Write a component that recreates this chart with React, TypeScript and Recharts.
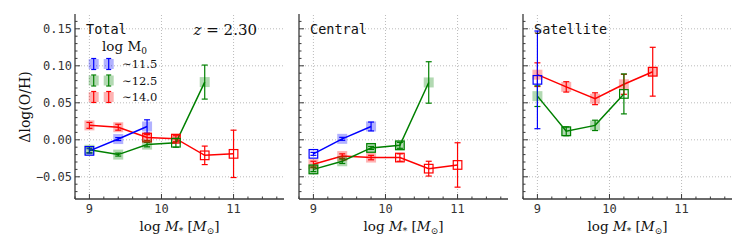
import React from 'react';
import { ComposedChart, Line, XAxis, YAxis, ErrorBar, ReferenceLine } from 'recharts';

// ---------- data ----------
const massBins = [9.0, 9.4, 9.8, 10.2, 10.6, 11.0];
const panelNames = ['Total', 'Central', 'Satellite'];
const haloLabels = ['\u223C11.5', '\u223C12.5', '\u223C14.0'];
const seriesColors = ['#0000ff', '#008000', '#ff0000'];

// Total
const totalLow = [-0.015, 0.001, 0.018];
const totalLowErr = [0.003, 0.002, 0.009];
const totalLowMark = ['h', 'f', 'f'];
const totalMid = [-0.0135, -0.02, -0.0065, -0.004, 0.078];
const totalMidErr = [0.004, 0.002, 0.003, 0.006, 0.023];
const totalMidMark = ['f', 'f', 'f', 'h', 'f'];
const totalHigh = [0.0195, 0.017, 0.003, 0.0015, -0.021, -0.019];
const totalHighErr = [0.004, 0.004, 0.004, 0.004, 0.0125, 0.032];
const totalHighMark = ['f', 'f', 'b', 'b', 'h', 'h'];

// Central
const centralLow = [-0.019, 0.0013, 0.018];
const centralLowErr = [0.002, 0.002, 0.006];
const centralLowMark = ['h', 'f', 'f'];
const centralMid = [-0.04, -0.029, -0.011, -0.0075, 0.0775];
const centralMidErr = [0.003, 0.003, 0.002, 0.004, 0.028];
const centralMidMark = ['b', 'f', 'b', 'b', 'f'];
const centralHigh = [-0.033, -0.022, -0.024, -0.024, -0.039, -0.034];
const centralHighErr = [0.004, 0.003, 0.003, 0.005, 0.01, 0.03];
const centralHighMark = ['f', 'f', 'f', 'h', 'h', 'h'];

// Satellite
const satLow = [0.081];
const satLowErr = [0.066];
const satLowMark = ['h'];
const satMid = [0.059, 0.0115, 0.0195, 0.062];
const satMidErr = [0.014, 0.006, 0.007, 0.027];
const satMidMark = ['f', 'b', 'f', 'h'];
const satHigh = [0.088, 0.0715, 0.0555, 0.075, 0.092];
const satHighErr = [0.016, 0.007, 0.008, 0.0135, 0.033];
const satHighMark = ['f', 'f', 'f', 'f', 'b'];

// axes
const xDomain = [8.8, 11.7];
const yDomain = [-0.08, 0.17];
const xMajorTicks = [9, 10, 11];
const xMinorTicks = [8.8, 9.2, 9.4, 9.6, 9.8, 10.2, 10.4, 10.6, 10.8, 11.2, 11.4, 11.6];
const yMajorTicks = [-0.05, 0, 0.05, 0.1, 0.15];
const yMajorLabels = ['\u22120.05', '0.00', '0.05', '0.10', '0.15'];
const yMinorTicks = [-0.07, -0.06, -0.04, -0.03, -0.02, -0.01, 0.01, 0.02, 0.03, 0.04, 0.06, 0.07, 0.08, 0.09, 0.11, 0.12, 0.13, 0.14, 0.16];

type Pt = { x: number; y: number; e: number; m: string };
const build = (vals: number[], errs: number[], marks: string[]): Pt[] =>
  vals.map((v, i) => ({ x: massBins[i], y: v, e: errs[i], m: marks[i] }));

const panels = [
  [build(totalLow, totalLowErr, totalLowMark), build(totalMid, totalMidErr, totalMidMark), build(totalHigh, totalHighErr, totalHighMark)],
  [build(centralLow, centralLowErr, centralLowMark), build(centralMid, centralMidErr, centralMidMark), build(centralHigh, centralHighErr, centralHighMark)],
  [build(satLow, satLowErr, satLowMark), build(satMid, satMidErr, satMidMark), build(satHigh, satHighErr, satHighMark)],
];

// ---------- layout ----------
const CHART_W = 294;
const CHART_H = 249;
const Y_AXIS_W = 75;
const PLOT_W = 209;
const TOP = 14;
const X_AXIS_H = 50;
const chartLefts = [0, 224, 448];
const frame = '#3a3a3a';
const textColor = '#333';
const mono = "'DejaVu Sans Mono', monospace";
const serifStyle = { fontFamily: "'DejaVu Serif', serif" };

const isMajorX = (v: number) => xMajorTicks.some((t) => Math.abs(t - v) < 1e-9);
const majorYIndex = (v: number) => yMajorTicks.findIndex((t) => Math.abs(t - v) < 1e-9);

const BottomTick = (props: any) => {
  const { x, y, payload } = props;
  const major = isMajorX(payload.value);
  return (
    <g>
      <line x1={x} x2={x} y1={y} y2={y - (major ? 5 : 2.5)} stroke={frame} strokeWidth={1} />
      {major && (
        <text x={x} y={y + 14} textAnchor="middle" fontFamily={mono} fontSize={12} fill={textColor}>
          {payload.value}
        </text>
      )}
    </g>
  );
};
const TopTick = (props: any) => {
  const { x, y, payload } = props;
  const major = isMajorX(payload.value);
  return <line x1={x} x2={x} y1={y} y2={y + (major ? 5 : 2.5)} stroke={frame} strokeWidth={1} />;
};
const makeLeftTick = (labels: boolean) => (props: any) => {
  const { x, y, payload } = props;
  const idx = majorYIndex(payload.value);
  const major = idx >= 0;
  return (
    <g>
      <line x1={x} x2={x + (major ? 5 : 2.5)} y1={y} y2={y} stroke={frame} strokeWidth={1} />
      {major && labels && (
        <text x={x - 3} y={y + 4.3} textAnchor="end" fontFamily={mono} fontSize={12} fill={textColor}>
          {yMajorLabels[idx]}
        </text>
      )}
    </g>
  );
};
const RightTick = (props: any) => {
  const { x, y, payload } = props;
  const major = majorYIndex(payload.value) >= 0;
  return <line x1={x} x2={x - (major ? 5 : 2.5)} y1={y} y2={y} stroke={frame} strokeWidth={1} />;
};

const makeDot = (color: string) => (props: any) => {
  const { cx, cy, payload, index } = props;
  if (cx == null || cy == null) return <g key={index} />;
  const m = payload.m;
  return (
    <g key={index}>
      {(m === 'f' || m === 'b') && (
        <rect x={cx - 5} y={cy - 5} width={10} height={10} fill={color} fillOpacity={0.3} />
      )}
      {(m === 'h' || m === 'b') && (
        <rect x={cx - 4.3} y={cy - 4.3} width={8.6} height={8.6} fill="none" stroke={color} strokeWidth={1.2} />
      )}
    </g>
  );
};

const allX = [...xMajorTicks, ...xMinorTicks].sort((a, b) => a - b);
const allY = [...yMajorTicks, ...yMinorTicks].sort((a, b) => a - b);
const drawOrder = [2, 1, 0];

const Panel = ({ idx }: { idx: number }) => {
  const series = panels[idx];
  return (
    <ComposedChart
      width={CHART_W}
      height={CHART_H}
      margin={{ top: TOP, right: CHART_W - Y_AXIS_W - PLOT_W, bottom: 0, left: 0 }}
    >
      <XAxis
        type="number"
        dataKey="x"
        domain={xDomain}
        ticks={allX}
        interval={0}
        height={X_AXIS_H}
        tickSize={0}
        tickMargin={0}
        tickLine={false}
        axisLine={{ stroke: frame, strokeWidth: 1.3 }}
        tick={BottomTick}
        allowDataOverflow
      />
      <XAxis
        xAxisId="top"
        orientation="top"
        type="number"
        dataKey="x"
        domain={xDomain}
        ticks={allX}
        interval={0}
        height={0}
        tickSize={0}
        tickMargin={0}
        tickLine={false}
        axisLine={{ stroke: frame, strokeWidth: 1.3 }}
        tick={TopTick}
        allowDataOverflow
      />
      <YAxis
        type="number"
        domain={yDomain}
        ticks={allY}
        interval={0}
        width={Y_AXIS_W}
        tickSize={0}
        tickMargin={0}
        tickLine={false}
        axisLine={{ stroke: frame, strokeWidth: 1.3 }}
        tick={makeLeftTick(idx === 0)}
        allowDataOverflow
      />
      <YAxis
        yAxisId="right"
        orientation="right"
        type="number"
        domain={yDomain}
        ticks={allY}
        interval={0}
        width={0}
        tickSize={0}
        tickMargin={0}
        tickLine={false}
        axisLine={{ stroke: frame, strokeWidth: 1.3 }}
        tick={RightTick}
        allowDataOverflow
      />
      {xMajorTicks.map((t) => (
        <ReferenceLine key={'gx' + t} x={t} stroke="#aaa" strokeWidth={0.8} strokeDasharray="1 2" />
      ))}
      {yMajorTicks.map((t) => (
        <ReferenceLine key={'gy' + t} y={t} stroke="#aaa" strokeWidth={0.8} strokeDasharray="1 2" />
      ))}
      {drawOrder.map((s) => (
        <Line
          key={'s' + s}
          data={series[s]}
          dataKey="y"
          stroke={seriesColors[s]}
          strokeWidth={1.5}
          dot={makeDot(seriesColors[s])}
          activeDot={false}
          isAnimationActive={false}
          legendType="none"
        >
          <ErrorBar dataKey="e" width={3} stroke={seriesColors[s]} strokeWidth={1.2} direction="y" />
        </Line>
      ))}
    </ComposedChart>
  );
};

const Overlay = () => {
  const plotLefts = chartLefts.map((l) => l + Y_AXIS_W);
  const legendRows = [64, 80.5, 97];
  return (
    <svg
      width={747}
      height={249}
      style={{ position: 'absolute', left: 0, top: 0, pointerEvents: 'none' }}
    >
      {panelNames.map((n, i) => (
        <text key={n} x={plotLefts[i] + 11} y={34} fontFamily={mono} fontSize={13.5} fill="#111">
          {n}
        </text>
      ))}
      <text x={257} y={35} textAnchor="end" style={serifStyle} fontSize={15} fill="#111">
        <tspan fontStyle="italic">z</tspan>
        <tspan> = 2.30</tspan>
      </text>
      {/* legend */}
      <text x={102} y={51} style={serifStyle} fontSize={13.5} fill="#111">
        log M<tspan fontSize={9} dy={2.5}>0</tspan>
      </text>
      {legendRows.map((ry, i) => (
        <g key={'lg' + i}>
          {[93.7, 108.7].map((lx) => (
            <g key={lx}>
              <rect x={lx - 5} y={ry - 5} width={10} height={10} fill={seriesColors[i]} fillOpacity={0.3} />
              <line x1={lx} x2={lx} y1={ry - 5.5} y2={ry + 5.5} stroke={seriesColors[i]} strokeWidth={1.2} />
              <line x1={lx - 2.5} x2={lx + 2.5} y1={ry - 5.5} y2={ry - 5.5} stroke={seriesColors[i]} strokeWidth={1.2} />
              <line x1={lx - 2.5} x2={lx + 2.5} y1={ry + 5.5} y2={ry + 5.5} stroke={seriesColors[i]} strokeWidth={1.2} />
            </g>
          ))}
          <text x={122} y={ry + 4} style={serifStyle} fontSize={11.5} fill="#111">
            {haloLabels[i]}
          </text>
        </g>
      ))}
      {/* y label */}
      <text
        x={0}
        y={0}
        transform="translate(30,107) rotate(-90)"
        textAnchor="middle"
        style={serifStyle}
        fontSize={14}
        fill="#111"
      >
        {'\u0394log(O/H)'}
      </text>
      {/* x labels */}
      {plotLefts.map((pl, i) => (
        <text key={'xl' + i} x={pl + PLOT_W / 2} y={231} textAnchor="middle" style={serifStyle} fontSize={13.5} fill="#111">
          log <tspan fontStyle="italic">M</tspan>
          <tspan fontSize={9} dy={3}>*</tspan>
          <tspan dy={-3}> [</tspan>
          <tspan fontStyle="italic">M</tspan>
          <tspan fontSize={9} dy={3}>{'\u2299'}</tspan>
          <tspan dy={-3}>]</tspan>
        </text>
      ))}
    </svg>
  );
};

export default function App() {
  return (
    <div style={{ position: 'absolute', left: 0, top: 0, width: 747, height: 249, background: '#fff' }}>
      {chartLefts.map((l, i) => (
        <div key={i} style={{ position: 'absolute', left: l, top: 0, width: CHART_W, height: CHART_H }}>
          <Panel idx={i} />
        </div>
      ))}
      <Overlay />
    </div>
  );
}
